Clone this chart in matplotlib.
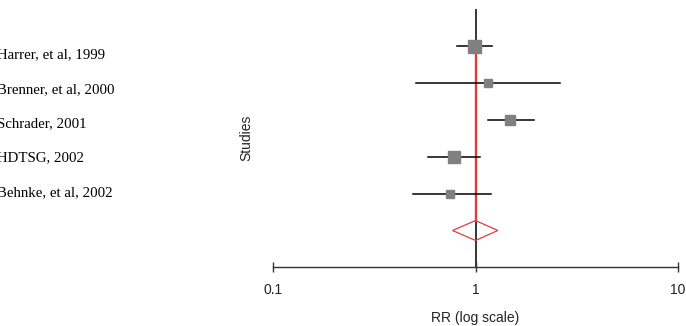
import numpy as np
import matplotlib
matplotlib.use("Agg")
import matplotlib.pyplot as plt
from matplotlib.patches import Polygon

studies = ["Harrer, et al, 1999", "Brenner, et al, 2000", "Schrader, 2001",
           "HDTSG, 2002", "Behnke, et al, 2002"]
rr = [0.98, 1.15, 1.48, 0.78, 0.75]
ci_low = [0.81, 0.51, 1.15, 0.58, 0.49]
ci_high = [1.20, 2.63, 1.94, 1.05, 1.19]
weights = [32.6, 12.4, 19.3, 23.4, 12.4]
pooled = 1.0
pooled_low = 0.77
pooled_high = 1.29

RED = "#e03c3c"
GREY = "#808080"

fig = plt.figure(figsize=(6.86, 3.26), dpi=100)
ax = fig.add_axes([273.3 / 686, 58.6 / 326, 404.4 / 686, 258.3 / 326])
ax.set_xscale("log")
ax.set_xlim(0.1, 10)
ax.set_ylim(6, -1)

rows = np.arange(len(studies))
diamond_y = len(studies)
half_h = 0.27

# reference line at RR = 1, red over the study span
ax.plot([1, 1], [-1, 6], color="black", lw=1.1, zorder=1)
ax.plot([pooled, pooled], [0, diamond_y - half_h], color=RED, lw=1.7, zorder=2)

for i in rows:
    ax.plot([ci_low[i], ci_high[i]], [i, i], color="black", lw=1.1, zorder=3)
    size = np.sqrt(weights[i] / max(weights)) * 13 * 0.72
    ax.plot(rr[i], i, marker="s", ms=size, color=GREY, mec=GREY, zorder=4)

dia = Polygon([(pooled_low, diamond_y), (pooled, diamond_y - half_h),
               (pooled_high, diamond_y), (pooled, diamond_y + half_h)],
              closed=True, facecolor="none", edgecolor=RED, lw=0.9, zorder=5)
ax.add_patch(dia)

for s in ["top", "left", "right"]:
    ax.spines[s].set_visible(False)
ax.spines["bottom"].set_linewidth(1.0)
ax.spines["bottom"].set_color("#333333")
ax.set_yticks([])
ax.set_xticks([0.1, 1, 10])
ax.set_xticklabels(["0.1", "1", "10"], fontsize=10, family="Liberation Sans", color="#222222")
ax.minorticks_off()
ax.tick_params(axis="x", direction="inout", length=7, width=1.0, pad=8, color="#333333")
ax.set_xlabel("RR (log scale)", fontsize=10, family="Liberation Sans", labelpad=10, color="#222222")

fig.text(246.7 / 686, 1 - 138 / 326, "Studies", rotation=90, ha="center", va="center",
         fontsize=10, family="Liberation Sans", color="#222222")

for i, name in enumerate(studies):
    yb = 58.3 + 34.4 * i
    fig.text(-3 / 686, 1 - yb / 326, name, ha="left", va="baseline",
             fontsize=10.7, family="Liberation Serif")

fig.savefig("out.png", dpi=100)
